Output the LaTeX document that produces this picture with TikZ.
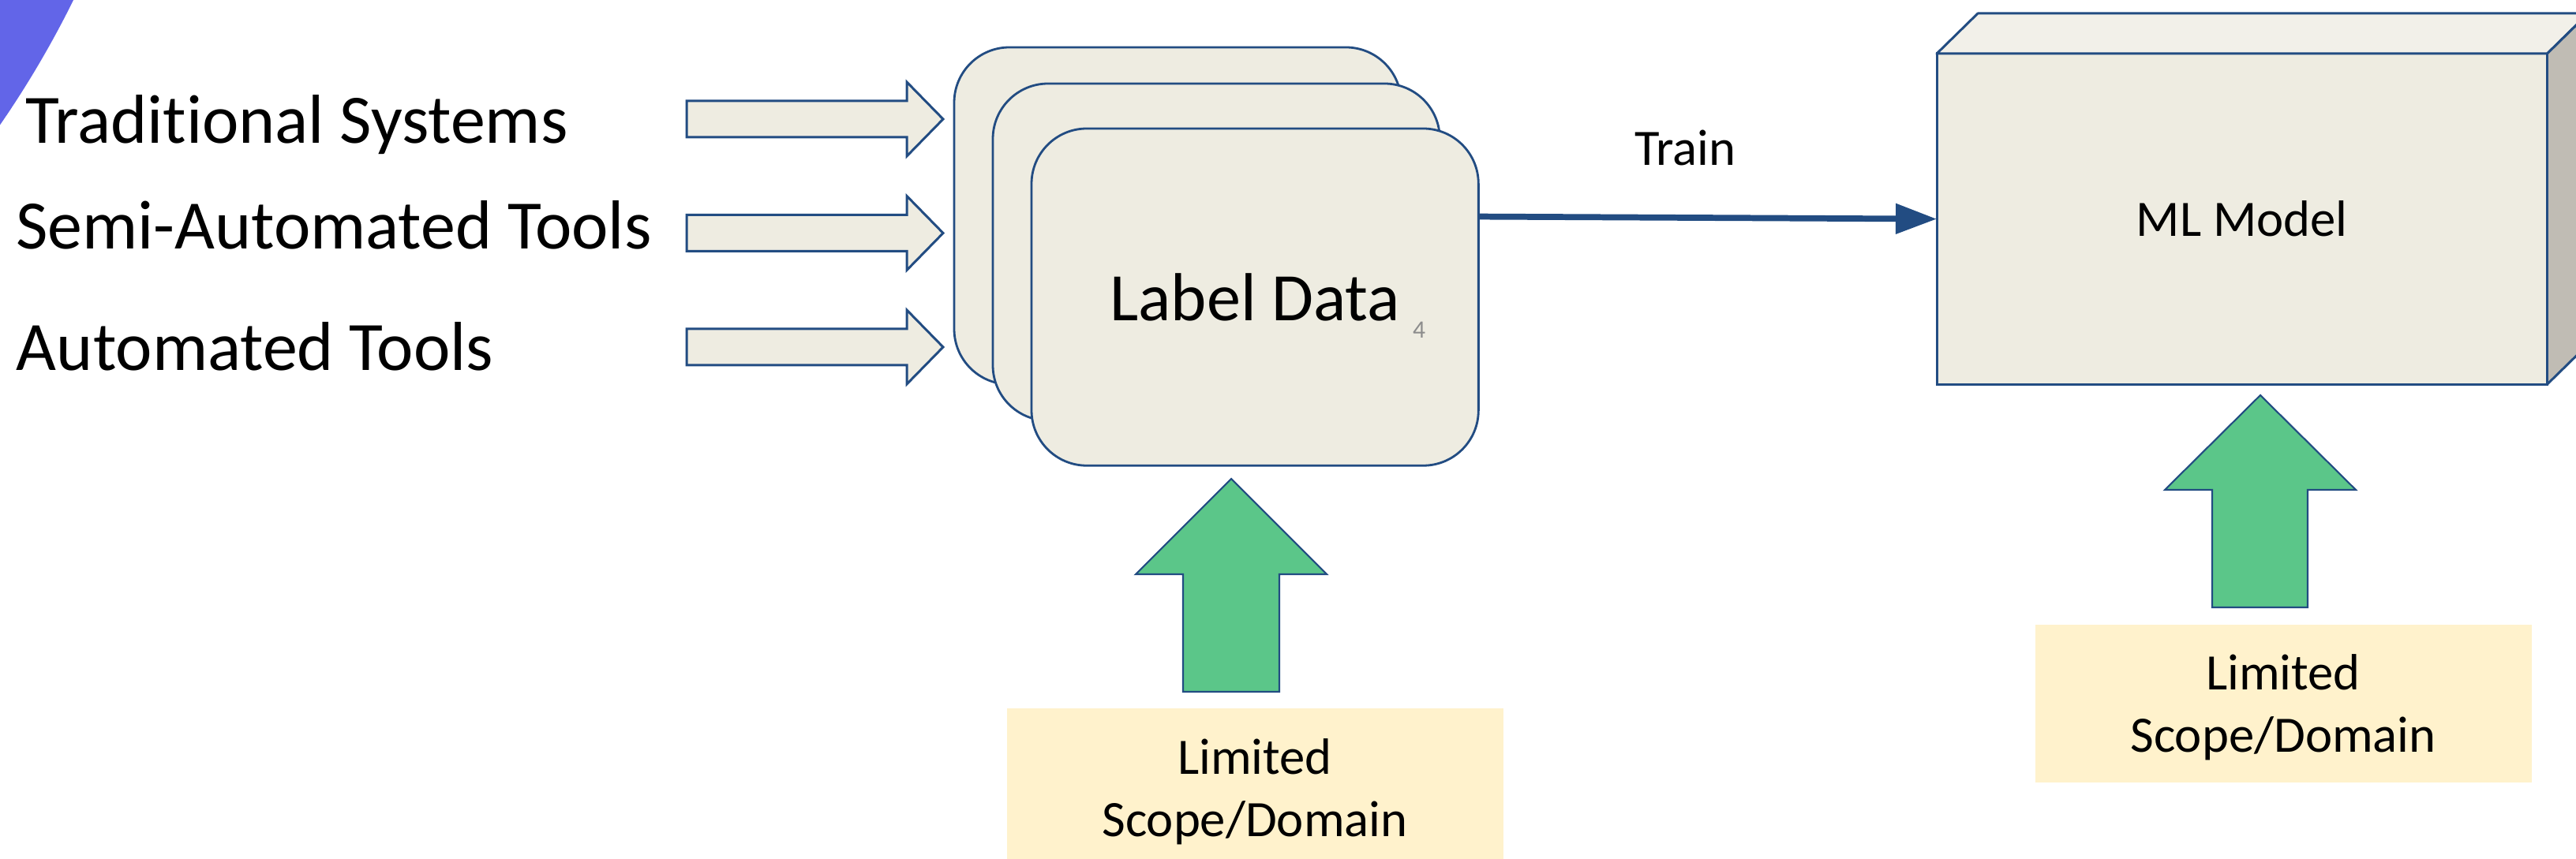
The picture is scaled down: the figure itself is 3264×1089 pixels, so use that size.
\documentclass[tikz,border=0pt]{standalone}
\usepackage{fontspec}
\setmainfont{Carlito}[Ligatures=NoCommon]
\usetikzlibrary{arrows.meta,calc}

\definecolor{boxfill}{HTML}{EEECE1}
\definecolor{topface}{HTML}{F2F0E9}
\definecolor{sideface}{HTML}{C0BCB4}
\definecolor{edge}{RGB}{34,76,130}
\definecolor{upgreen}{RGB}{91,198,137}
\definecolor{notefill}{HTML}{FFF2CC}
\definecolor{accentviolet}{RGB}{98,101,232}
\definecolor{pagenum}{HTML}{8C8C8C}

\begin{document}
\begin{tikzpicture}[x=0.01cm,y=-0.01cm,
  every node/.style={outer sep=0pt},
  source/.style={font=\fontsize{25}{30}\selectfont, anchor=base west, inner sep=0pt},
  card/.style={draw=edge, line width=0.8pt, fill=boxfill, rounded corners=0.7cm,
    minimum width=5.66cm, minimum height=4.27cm, anchor=north west, inner sep=0pt},
  blockarrow/.style={draw=edge, line width=0.85pt, fill=boxfill},
  uparrow/.style={draw=edge, line width=0.6pt, fill=upgreen},
  note/.style={fill=notefill, minimum width=6.29cm, minimum height=2.0cm,
    anchor=north west, inner sep=0pt},
  notetext/.style={font=\fontsize{18.4}{22.4}\selectfont, anchor=base, inner sep=0pt},
  smalltext/.style={font=\fontsize{18.4}{22.4}\selectfont, inner sep=0pt},
  trainline/.style={draw=edge, line width=2.2pt, -{Triangle[length=0.52cm,width=0.37cm]}},
]
\useasboundingbox (0,0) rectangle (3264,1089);
\clip (0,0) rectangle (3264,1089);

% corner decoration
\fill[accentviolet] (-1040,-558) circle [radius=12.62cm];

% input sources
\node[source] (t1) at (32,182) {Traditional Systems};
\node[source] (t2) at (20,316) {Semi-Automated Tools};
\node[source] (t3) at (21,470) {Automated Tools};

% input arrows
\foreach \c in {151,295.5,440}
  \draw[blockarrow] (870,\c-23) -- (1149,\c-23) -- (1149,\c-47) -- (1195,\c)
    -- (1149,\c+47) -- (1149,\c+23) -- (870,\c+23) -- cycle;

% stacked label data cards
\node[card] (ld1) at (1209,60) {};
\node[card] (ld2) at (1258,106) {};
\node[card, font=\fontsize{24.5}{29}\selectfont] (ld3) at (1307,163) {Label Data};
\node[font=\fontsize{9}{11}\selectfont, text=pagenum, anchor=base west, inner sep=0pt]
  (pg) at (1790,429) {4};

% model block
\node[draw=edge, line width=0.85pt, fill=boxfill, minimum width=7.73cm, minimum height=4.19cm,
  anchor=north west, inner sep=0pt, font=\fontsize{18.4}{22.4}\selectfont]
  (ml) at (2454,68) {ML Model};
\draw[edge, line width=0.85pt, fill=topface, line join=round]
  (ml.north west) -- ++(52,-51) -- ($(ml.north east)+(52,-51)$) -- (ml.north east) -- cycle;
\draw[edge, line width=0.85pt, fill=sideface, line join=round]
  (ml.north east) -- ++(52,-51) -- ($(ml.south east)+(52,-51)$) -- (ml.south east) -- cycle;

% training connector
\draw[trainline] ([yshift=1.02cm]ld3.east) -- (ml.west);
\node[smalltext, anchor=base west] (trainlbl) at (2071,210) {Train};

% scope notes
\node[note] (lim1) at (1276,898) {};
\node[notetext] (lim1a) at (1590,981) {Limited};
\node[notetext] (lim1b) at (1590,1060) {Scope/Domain};
\node[note] (lim2) at (2579,792) {};
\node[notetext] (lim2a) at (2893,874) {Limited};
\node[notetext] (lim2b) at (2893,953) {Scope/Domain};

% upward arrows
\draw[uparrow] (1560,607) -- (1681,728) -- (1621,728) -- (1621,877) -- (1499,877)
  -- (1499,728) -- (1439,728) -- cycle;
\draw[uparrow] (2864,501) -- (2985,621) -- (2924,621) -- (2924,770) -- (2803,770)
  -- (2803,621) -- (2743,621) -- cycle;
\end{tikzpicture}
\end{document}
